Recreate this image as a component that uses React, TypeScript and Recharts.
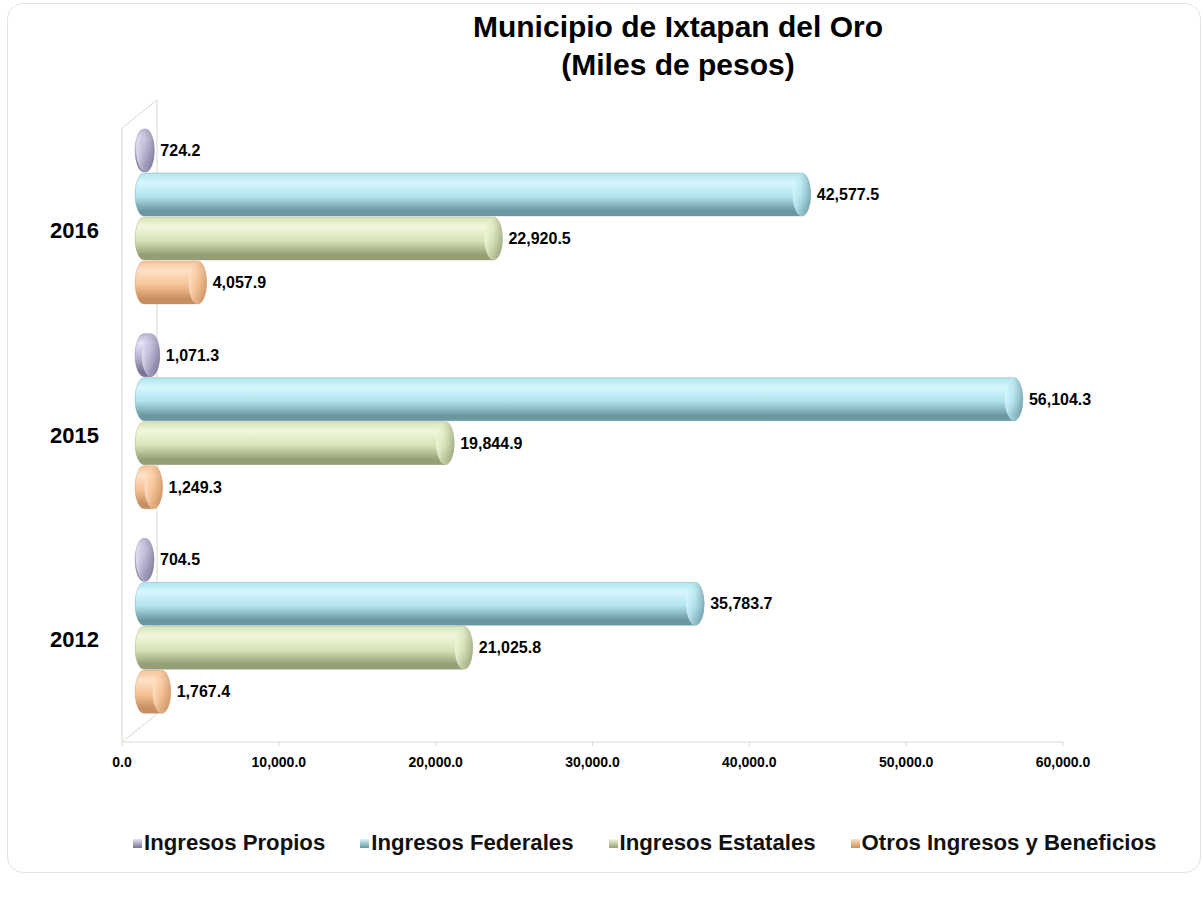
import React from 'react';
import { BarChart, Bar, XAxis, YAxis, LabelList, usePlotArea } from 'recharts';

const years = ['2016', '2015', '2012'];
const propios = [724.2, 1071.3, 704.5];
const federales = [42577.5, 56104.3, 35783.7];
const estatales = [22920.5, 19844.9, 21025.8];
const otros = [4057.9, 1249.3, 1767.4];
const xTicks = [0, 10000, 20000, 30000, 40000, 50000, 60000];

const seriesKeys = ['propios', 'federales', 'estatales', 'otros'];
const seriesNames = ['Ingresos Propios', 'Ingresos Federales', 'Ingresos Estatales', 'Otros Ingresos y Beneficios'];

const PALETTE = [
    { light: '#e4e2f3', mid: '#b8b5d3', dark: '#787494' },
    { light: '#d6f7fd', mid: '#b1e3ed', dark: '#6b97a1' },
    { light: '#f1f7dc', mid: '#d8e3b8', dark: '#959f76' },
    { light: '#fde2c8', mid: '#f7c396', dark: '#c78f62' },
];

const FONT = "'Liberation Sans', Arial, sans-serif";

// 3D look: bars sit half way back in the depth of the plot
const DX = 13;
const DY = -14;
const CAP = 9;
const EXTRA = 8;
const DEPTH_X = 35;
const DEPTH_Y = 28;

const data = years.map((year, i) => ({
    year,
    propios: propios[i],
    federales: federales[i],
    estatales: estatales[i],
    otros: otros[i],
}));

const fmt = (v: number) =>
    Number(v).toLocaleString('en-US', { minimumFractionDigits: 1, maximumFractionDigits: 1 });

const makeCylinder = (si: number) => (props: any) => {
    const { x, y, width, height } = props;
    const left = x + DX;
    const right = x + DX + Math.max(0, width) + EXTRA;
    const top = y + DY;
    const ry = height / 2;
    const rx = Math.min(CAP, (right - left) / 2);
    const cy = top + ry;
    const d = `M${left + rx},${top} H${right - rx} A${rx},${ry} 0 0 1 ${right - rx},${top + height} H${left + rx} A${rx},${ry} 0 0 1 ${left + rx},${top} Z`;
    return (
        <g>
            <path d={d} fill={`url(#body-${si})`} stroke={PALETTE[si].dark} strokeWidth={0.7} strokeOpacity={0.5} />
            <ellipse cx={right - rx} cy={cy} rx={rx} ry={ry} fill={`url(#cap-${si})`} />
        </g>
    );
};

const renderLabel = (props: any) => {
    const { x, y, width, height, value } = props;
    return (
        <text
            x={x + DX + width + EXTRA + 6}
            y={y + DY + height / 2}
            dominantBaseline="central"
            fontSize={16}
            fontWeight="bold"
            fontFamily={FONT}
            fill="#000"
        >
            {fmt(value)}
        </text>
    );
};

const Frame = () => {
    const area = usePlotArea();
    if (!area) return null;
    const { x, y, height } = area;
    const stroke = '#d9d9cf';
    return (
        <g>
            <line x1={x} y1={y} x2={x + DEPTH_X} y2={y - DEPTH_Y} stroke={stroke} />
            <line x1={x + DEPTH_X} y1={y - DEPTH_Y} x2={x + DEPTH_X} y2={y + height - DEPTH_Y} stroke={stroke} />
            <line x1={x} y1={y + height} x2={x + DEPTH_X} y2={y + height - DEPTH_Y} stroke={stroke} />
        </g>
    );
};

const Gradients = () => (
    <defs>
        {PALETTE.map((c, i) => (
            <React.Fragment key={i}>
                <linearGradient id={`body-${i}`} x1="0" y1="0" x2="0" y2="1">
                    <stop offset="0%" stopColor={c.mid} />
                    <stop offset="22%" stopColor={c.light} />
                    <stop offset="55%" stopColor={c.mid} />
                    <stop offset="88%" stopColor={c.dark} />
                    <stop offset="100%" stopColor={c.dark} />
                </linearGradient>
                <linearGradient id={`cap-${i}`} x1="0" y1="0" x2="1" y2="0">
                    <stop offset="0%" stopColor={c.light} stopOpacity={0.9} />
                    <stop offset="45%" stopColor={c.mid} stopOpacity={0.6} />
                    <stop offset="100%" stopColor={c.dark} stopOpacity={0.7} />
                </linearGradient>
            </React.Fragment>
        ))}
    </defs>
);

const CustomLegend = () => (
    <div
        style={{
            position: 'absolute',
            left: 133,
            top: 831,
            display: 'flex',
            gap: 35,
            fontFamily: FONT,
            fontSize: 22.2,
            fontWeight: 'bold',
            lineHeight: '24px',
            color: '#111',
            whiteSpace: 'nowrap',
        }}
    >
        {seriesNames.map((name, i) => (
            <div key={name} style={{ display: 'flex', alignItems: 'center' }}>
                <span
                    style={{
                        width: 9,
                        height: 9,
                        marginRight: 2,
                        background: `linear-gradient(${PALETTE[i].light}, ${PALETTE[i].dark})`,
                    }}
                />
                <span>{name}</span>
            </div>
        ))}
    </div>
);

const App: React.FC = () => {
    return (
        <div style={{ position: 'absolute', left: 0, top: 0, width: 1203, height: 898, background: '#fff' }}>
            <div
                style={{
                    position: 'absolute',
                    left: 7,
                    top: 3,
                    width: 1192,
                    height: 868,
                    border: '1px solid #e2e2e2',
                    borderRadius: 16,
                }}
            />
            <div
                style={{
                    position: 'absolute',
                    left: 378,
                    top: 8,
                    width: 600,
                    textAlign: 'center',
                    fontFamily: FONT,
                    fontSize: 30,
                    fontWeight: 'bold',
                    lineHeight: '38px',
                    color: '#000',
                }}
            >
                Municipio de Ixtapan del Oro
                <br />
                (Miles de pesos)
            </div>
            <div style={{ position: 'absolute', left: 0, top: 0 }}>
                <BarChart
                    width={1203}
                    height={898}
                    data={data}
                    layout="vertical"
                    margin={{ top: 128, right: 140, bottom: 126, left: 22 }}
                    barSize={43}
                    barGap={1}
                >
                    <Gradients />
                    <Frame />
                    <XAxis
                        type="number"
                        domain={[0, 60000]}
                        ticks={xTicks}
                        tickFormatter={fmt}
                        height={30}
                        axisLine={{ stroke: '#d9d9cf' }}
                        tickLine={{ stroke: '#d9d9cf' }}
                        tickSize={4}
                        tickMargin={11}
                        tick={{ fontSize: 14, fontWeight: 'bold', fill: '#000', fontFamily: FONT }}
                    />
                    <YAxis
                        type="category"
                        dataKey="year"
                        width={100}
                        axisLine={{ stroke: '#d9d9cf' }}
                        tickLine={false}
                        tickSize={0}
                        tickMargin={23}
                        tick={{ fontSize: 22, fontWeight: 'bold', fill: '#000', fontFamily: FONT }}
                    />
                    {seriesKeys.map((key, si) => (
                        <Bar
                            key={key}
                            dataKey={key}
                            name={seriesNames[si]}
                            fill={PALETTE[si].mid}
                            shape={makeCylinder(si)}
                            isAnimationActive={false}
                        >
                            <LabelList dataKey={key} content={renderLabel} />
                        </Bar>
                    ))}
                </BarChart>
            </div>
            <CustomLegend />
        </div>
    );
};

export default App;
